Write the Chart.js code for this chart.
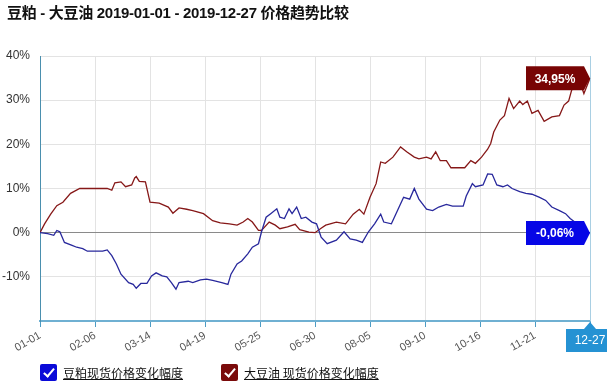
<!DOCTYPE html>
<html>
<head>
<meta charset="utf-8">
<script src="https://cdn.jsdelivr.net/npm/chart.js@4/dist/chart.umd.min.js"></script>
<style>
  html,body{margin:0;padding:0;background:#fff;}
  #wrap{position:relative;width:607px;height:391px;overflow:hidden;}
  #chart{position:absolute;left:0;top:0;}
  #title{position:absolute;left:7px;top:1px;font:bold 15px "Liberation Sans","Noto Sans CJK SC",sans-serif;color:#111;white-space:nowrap;letter-spacing:-0.3px;}
  .leg{position:absolute;top:364px;height:18px;font:12px "Noto Sans CJK SC","Liberation Sans",sans-serif;color:#111;white-space:nowrap;}
  .leg .cb{position:absolute;left:0;top:0;width:17px;height:17px;border-radius:2px;}
  .leg .cb::after{content:"";position:absolute;left:6px;top:2px;width:4px;height:9px;border:solid #fff;border-width:0 2.5px 2.5px 0;transform:rotate(40deg);}
  .leg .tx{position:absolute;left:23px;top:0;line-height:17px;text-decoration:underline;}
</style>
</head>
<body>
<div id="wrap">
  <canvas id="chart" width="607" height="391"></canvas>
  <div id="title">豆粕 - 大豆油 2019-01-01 - 2019-12-27 价格趋势比较</div>
  <div class="leg" style="left:40px"><span class="cb" style="background:#0a0ad8"></span><span class="tx">豆粕现货价格变化幅度</span></div>
  <div class="leg" style="left:221px"><span class="cb" style="background:#7a0a0a"></span><span class="tx">大豆油 现货价格变化幅度</span></div>
</div>
<script>
// 天数 = 自 2019-01-01 起的日历天数
const oilDays = [0,3,7,11,15,20,26,44,47,49,53,56,60,62,63,65,69,72,78,84,87,91,96,100,107,113,118,124,129,133,136,139,143,145,150,154,157,162,167,170,176,180,184,187,194,200,205,209,212,216,220,223,226,231,236,240,245,248,253,256,259,262,266,269,278,282,285,289,293,295,297,301,304,307,310,314,316,319,322,326,330,335,340,343,346,348,353,356,360];
const oilVals = [0,2.0,4.2,6.1,6.9,8.9,10,10,9.6,11.3,11.5,10.4,10.8,12.4,12.7,11.6,11.5,6.9,6.7,5.8,4.4,5.6,5.3,5.0,4.3,2.7,2.2,2.0,1.7,2.4,3.2,2.4,0.5,0.5,2.4,1.7,0.9,1.3,1.9,0.7,0.1,0,1.0,1.7,2.4,2.0,4.2,5.3,4.2,8.0,11.1,16.0,15.7,17.1,19.4,18.3,17.1,16.7,17.1,16.7,18.3,16.3,16.3,14.7,14.7,16.3,15.7,17.1,18.9,20.2,22.8,25.5,26.5,30.4,28.1,29.8,29.0,29.8,27.0,27.7,25.2,26.2,26.5,28.9,29.8,32.3,34.5,31.5,34.95];

const mealDays = [0,5,9,11,13,16,21,24,28,31,41,44,47,50,53,58,61,63,66,70,73,76,80,83,86,89,91,97,100,105,109,113,119,123,125,129,132,136,139,143,145,148,151,155,157,160,163,165,168,171,174,178,181,184,188,194,199,203,207,211,215,219,223,225,230,234,238,242,245,248,253,257,261,266,270,277,279,283,285,290,293,296,299,303,306,309,314,318,322,327,331,335,340,344,347,350,353,356,360];
const mealVals = [0,-0.2,-0.6,0.5,0.2,-2.2,-2.9,-3.3,-3.6,-4.2,-4.2,-3.9,-5.2,-7.1,-9.4,-11.3,-11.7,-12.6,-11.5,-11.5,-9.8,-9.1,-9.8,-10,-11.3,-12.8,-11.3,-11.0,-11.3,-10.7,-10.5,-10.8,-11.3,-11.7,-9.4,-7.1,-6.4,-4.8,-3.3,-2.5,0.2,3.5,4.3,5.4,3.5,3.2,5.4,4.3,5.8,3.2,3.5,2.4,2.0,-1.0,-2.5,-1.7,0.2,-1.4,-1.7,-2.2,0.2,2.0,4.2,2.4,2.0,5.0,8.0,7.6,10.0,7.6,5.3,5.0,5.8,6.4,6.0,6.0,8.3,11.1,10.4,10.8,13.3,13.2,10.8,10.4,10.8,10.0,9.3,8.9,8.7,8.0,7.3,5.8,5.0,4.3,3.2,2.4,1.2,0.5,-0.06];

const seriesNames = ['豆粕现货价格变化幅度','大豆油 现货价格变化幅度'];
const yTicks = [-20,-10,0,10,20,30,40];
const lastDateLabel = '12-27';

function dayLabel(d){
  const t = new Date(2019,0,1+d);
  return String(t.getMonth()+1).padStart(2,'0')+'-'+String(t.getDate()).padStart(2,'0');
}
const pts = (xs,ys) => xs.map((x,i)=>({x, y:ys[i]}));
const fmtPct = v => v.toFixed(2).replace('.',',')+'%';

// 末值标签 + 右边框 + 末日期标签
const decor = {
  id:'decor',
  afterDatasetsDraw(chart){
    const {ctx, chartArea:a, scales:{x}} = chart;
    ctx.save();
    ctx.strokeStyle = '#a9cfe3'; ctx.lineWidth = 1;
    ctx.beginPath(); ctx.moveTo(a.right+0.5,a.top); ctx.lineTo(a.right+0.5,a.bottom); ctx.stroke();

    chart.data.datasets.forEach((ds,i)=>{
      const meta = chart.getDatasetMeta(i);
      const p = meta.data[meta.data.length-1];
      const v = ds.data[ds.data.length-1].y;
      const tip = p.x, y = p.y, w = 58, h = 24, r = tip-6;
      ctx.fillStyle = ds.tagColor;
      ctx.beginPath();
      ctx.moveTo(r-w, y-h/2); ctx.lineTo(r, y-h/2); ctx.lineTo(tip, y);
      ctx.lineTo(r, y+h/2); ctx.lineTo(r-w, y+h/2); ctx.closePath(); ctx.fill();
      ctx.fillStyle = '#fff'; ctx.font = 'bold 12px "Liberation Sans", Arial';
      ctx.textAlign = 'center'; ctx.textBaseline = 'middle';
      ctx.fillText(fmtPct(v), r-w/2, y+1);
    });

    const bx = x.getPixelForValue(360), by = a.bottom+1;
    ctx.fillStyle = '#2592d3';
    ctx.beginPath();
    ctx.moveTo(bx, by); ctx.lineTo(bx+6, by+7); ctx.lineTo(bx+18, by+7);
    ctx.lineTo(bx+18, by+30); ctx.lineTo(bx-24, by+30); ctx.lineTo(bx-24, by+7);
    ctx.lineTo(bx-6, by+7); ctx.closePath(); ctx.fill();
    ctx.fillStyle = '#fff'; ctx.font = '12px "Liberation Sans", Arial';
    ctx.textAlign = 'center'; ctx.textBaseline = 'middle';
    ctx.fillText(lastDateLabel, bx, by+19);
    ctx.restore();
  }
};

new Chart(document.getElementById('chart'), {
  type:'line',
  data:{
    datasets:[
      { label:seriesNames[0], data:pts(mealDays,mealVals), borderColor:'#28289c', tagColor:'#0606e6', borderWidth:1.3, pointRadius:0, tension:0 },
      { label:seriesNames[1], data:pts(oilDays,oilVals), borderColor:'#861818', tagColor:'#780404', borderWidth:1.3, pointRadius:0, tension:0 }
    ]
  },
  options:{
    responsive:false,
    animation:false,
    devicePixelRatio:1,
    layout:{ padding:{ top:56, right:17, left:0, bottom:0 } },
    plugins:{ legend:{ display:false }, title:{ display:false }, tooltip:{ enabled:false } },
    scales:{
      x:{
        type:'linear', min:0, max:360,
        afterBuildTicks: s => { s.ticks = Array.from({length:11},(_,i)=>({value:i*36})); },
        ticks:{ autoSkip:false, minRotation:30, maxRotation:30, color:'#555', padding:2,
          font:{ size:11, family:'"Liberation Sans", Arial' },
          callback: v => v===360 ? '' : dayLabel(v) },
        grid:{ color:'#e3e3e3', tickColor:'#4d9cc4', tickLength:6 },
        border:{ color:'#6fb0d2', width:2 },
        afterFit: s => { s.height = 70; }
      },
      y:{
        min:-20, max:40,
        afterBuildTicks: s => { s.ticks = yTicks.map(v=>({value:v})); },
        ticks:{ color:'#333', padding:10, font:{ size:12, family:'"Liberation Sans", Arial' },
          callback: v => v===-20 ? '' : v+'%' },
        grid:{ color: c => (c.tick && c.tick.value===0) ? '#8a8a8a' : '#e3e3e3', drawTicks:false },
        border:{ color:'#4a8fae', width:1 },
        afterFit: s => { s.width = 40; }
      }
    }
  },
  plugins:[decor]
});
</script>
</body>
</html>
